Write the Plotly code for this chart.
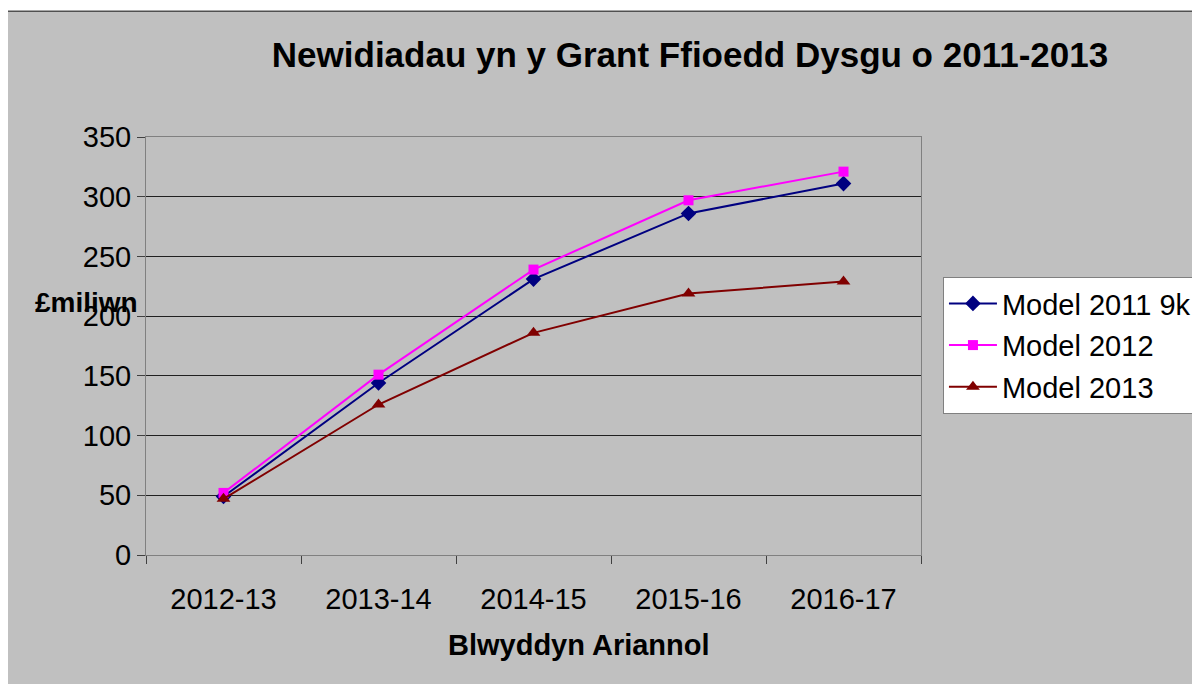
import plotly.graph_objects as go

categories = ["2012-13", "2013-14", "2014-15", "2015-16", "2016-17"]
model_2011_9k = [49, 144, 231, 286, 311]
model_2012 = [52, 151, 239, 297, 321]
model_2013 = [47, 126, 186, 219, 229]
y_ticks = [0, 50, 100, 150, 200, 250, 300, 350]

FONT = "Liberation Sans, Arial, sans-serif"
OFF = 8  # page body offset compensation

fig = go.Figure()
fig.add_trace(go.Scatter(x=categories, y=model_2011_9k, name="Model 2011 9k", mode="lines+markers",
                         line=dict(color="#000080", width=2), legendgroup="a",
                         marker=dict(symbol="diamond", size=12, color="#000080")))
fig.add_trace(go.Scatter(x=categories, y=model_2012, name="Model 2012", mode="lines+markers",
                         line=dict(color="#FF00FF", width=2), legendgroup="b",
                         marker=dict(symbol="square", size=10, color="#FF00FF")))
fig.add_trace(go.Scatter(x=categories, y=model_2013, name="Model 2013", mode="lines+markers",
                         line=dict(color="#800000", width=2), legendgroup="c",
                         marker=dict(symbol="triangle-up", size=12, color="#800000")))

# gray chart frame
fig.add_shape(type="rect", xref="paper", yref="paper", x0=-0.183, x1=1.352, y0=-0.33, y1=1.301,
              fillcolor="#C0C0C0", line=dict(color="#505050", width=1.5), layer="below")

fig.update_layout(
    width=1200, height=684,
    margin=dict(l=146 - OFF, r=278 + OFF, t=137 - OFF, b=129 + OFF),
    paper_bgcolor="white", plot_bgcolor="white",
    font=dict(family=FONT, color="black", size=29),
    title=dict(text="<b>Newidiadau yn y Grant Ffioedd Dysgu o 2011-2013</b>",
               x=(690 - OFF) / 1200, xanchor="center", y=1 - (55 - OFF) / 684, yanchor="middle",
               font=dict(size=35, family=FONT, color="black")),
    showlegend=True,
    legend=dict(x=1.027, xanchor="left", y=0.665, yanchor="top", bgcolor="white",
                bordercolor="#808080", borderwidth=1, font=dict(size=29, family=FONT),
                tracegroupgap=1, itemwidth=48),
    xaxis=dict(type="category", range=[-0.5, 4.5], showgrid=False, showline=True,
               linecolor="#808080", mirror=True,
               ticks="outside", ticklen=8, tickcolor="#404040", tickson="boundaries",
               ticklabelstandoff=18, tickfont=dict(size=29)),
    yaxis=dict(range=[0, 350], tickvals=y_ticks, showgrid=True, gridcolor="#202020", gridwidth=1,
               showline=True, linecolor="#808080", mirror=True, ticks="outside", ticklen=8,
               tickcolor="#404040", zeroline=False, tickfont=dict(size=29)),
    annotations=[
        dict(text="<b>Blwyddyn Ariannol</b>", xref="paper", yref="paper",
             x=(580 - 146) / 776, y=(555 - 645) / 418, xanchor="center", yanchor="middle",
             showarrow=False, font=dict(size=29, family=FONT)),
        dict(text="<b>£miliwn</b>", xref="paper", yref="paper",
             x=(86 - 146) / 776, y=(555 - 302) / 418, xanchor="center", yanchor="middle",
             showarrow=False, font=dict(size=28, family=FONT)),
    ],
)

fig.write_html("out.html")
